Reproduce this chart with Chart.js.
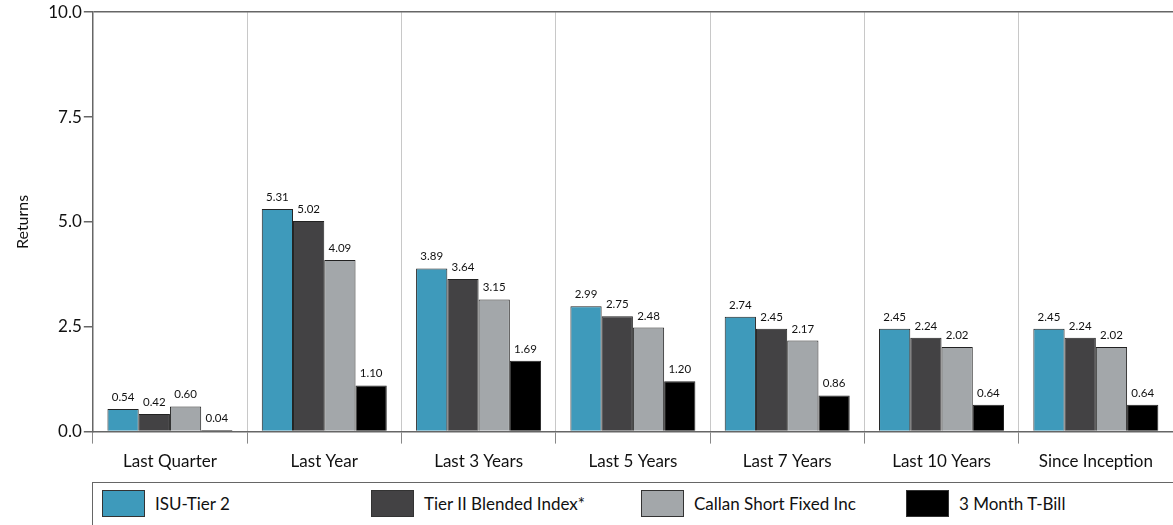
<!DOCTYPE html>
<html>
<head>
<meta charset="utf-8">
<script src="https://cdn.jsdelivr.net/npm/chart.js@4"></script>
<style>
  html, body { margin: 0; padding: 0; background: #fff; }
  #wrap { position: relative; width: 1173px; height: 525px; overflow: hidden; font-family: Lato, sans-serif; }
  #chartBox { position: absolute; left: 0; top: 0; width: 1173px; height: 480px; }
  #legend { position: absolute; left: 92px; top: 482px; width: 1100px; height: 60px;
            border: 1.5px solid #666; box-sizing: border-box; }
  .item { position: absolute; top: 7px; display: flex; align-items: center; font-size: 17px; color: #111; }
  .swatch { width: 43px; height: 27px; border: 1px solid #333; box-sizing: border-box; margin-right: 10px; }
</style>
</head>
<body>
<div id="wrap">
  <div id="chartBox"><canvas id="c"></canvas></div>
  <div id="legend"></div>
</div>
<script>
// categories and series
const periods = ['Last Quarter', 'Last Year', 'Last 3 Years', 'Last 5 Years', 'Last 7 Years', 'Last 10 Years', 'Since Inception'];
const isuTier2   = [0.54, 5.31, 3.89, 2.99, 2.74, 2.45, 2.45];
const tier2Blend = [0.42, 5.02, 3.64, 2.75, 2.45, 2.24, 2.24];
const callanSF   = [0.60, 4.09, 3.15, 2.48, 2.17, 2.02, 2.02];
const tBill3m    = [0.04, 1.10, 1.69, 1.20, 0.86, 0.64, 0.64];
const seriesNames = ['ISU-Tier 2', 'Tier II Blended Index*', 'Callan Short Fixed Inc', '3 Month T-Bill'];
const yTicks = [0, 2.5, 5, 7.5, 10];

const colors = ['#3e9abb', '#434244', '#a3a7aa', '#000000'];
const legendX = [9, 278, 548, 813];

// etiquettes au-dessus des barres
const valueLabels = {
  id: 'valueLabels',
  afterDatasetsDraw(chart) {
    const ctx = chart.ctx;
    ctx.save();
    ctx.font = '11.5px Lato, sans-serif';
    ctx.fillStyle = '#111';
    ctx.textAlign = 'center';
    ctx.textBaseline = 'bottom';
    chart.data.datasets.forEach((ds, i) => {
      chart.getDatasetMeta(i).data.forEach((bar, j) => {
        ctx.fillText(ds.data[j].toFixed(2), bar.x, bar.y - 6);
      });
    });
    ctx.restore();
  }
};

const seriesData = [isuTier2, tier2Blend, callanSF, tBill3m];

new Chart(document.getElementById('c'), {
  type: 'bar',
  data: {
    labels: periods,
    datasets: seriesData.map((d, i) => ({
      label: seriesNames[i],
      data: d,
      backgroundColor: colors[i],
      borderColor: '#222',
      borderWidth: 1,
      categoryPercentage: 0.81,
      barPercentage: 1.0
    }))
  },
  options: {
    responsive: true,
    maintainAspectRatio: false,
    animation: false,
    layout: { padding: { left: 9, right: -8, top: 7, bottom: 0 } },
    plugins: { legend: { display: false }, tooltip: { enabled: false } },
    scales: {
      x: {
        grid: { offset: true, color: '#c8c8c8', lineWidth: 1, tickLength: 12, tickColor: '#888' },
        border: { color: '#666', width: 1.5 },
        ticks: { color: '#111', font: { family: 'Lato', size: 17 }, padding: 8 }
      },
      y: {
        min: 0, max: 10,
        afterBuildTicks: axis => { axis.ticks = yTicks.map(v => ({ value: v })); },
        title: { display: true, text: 'Returns', color: '#111', font: { family: 'Lato', size: 16 }, padding: { bottom: 14 } },
        grid: {
          color: c => (c.tick && c.tick.value === 10 ? '#666' : 'transparent'),
          lineWidth: 1.5, tickLength: 9, tickColor: '#666'
        },
        border: { color: '#666', width: 1.5 },
        ticks: { color: '#111', font: { family: 'Lato', size: 17 }, padding: 2, callback: v => v.toFixed(1) }
      }
    }
  },
  plugins: [valueLabels]
});

// legende en HTML
const legend = document.getElementById('legend');
seriesNames.forEach((name, i) => {
  const it = document.createElement('div');
  it.className = 'item';
  it.style.left = legendX[i] + 'px';
  it.innerHTML = '<span class="swatch" style="background:' + colors[i] + '"></span>' + name;
  legend.appendChild(it);
});
</script>
</body>
</html>
